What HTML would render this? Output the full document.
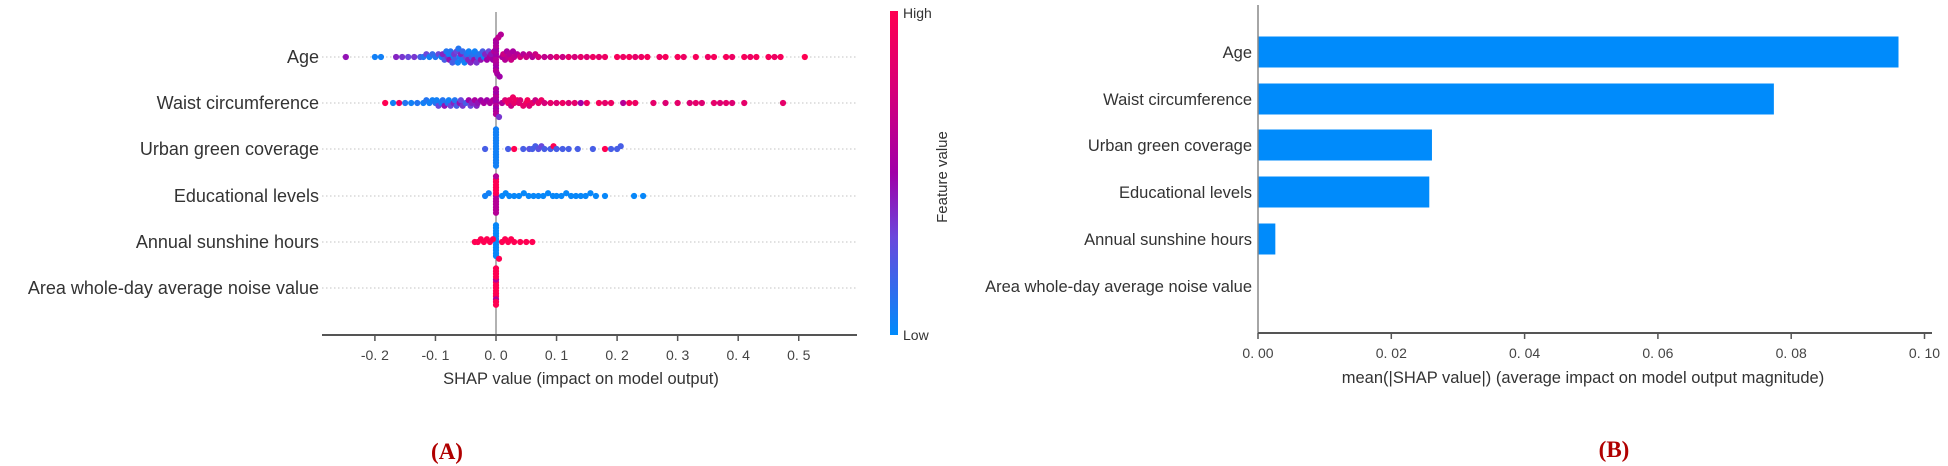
<!DOCTYPE html>
<html><head><meta charset="utf-8">
<style>
html,body{margin:0;padding:0;background:#fff;}
svg{display:block;font-family:"Liberation Sans",Arial,sans-serif;}
</style></head>
<body>
<svg id="fig" width="1948" height="466" viewBox="0 0 1948 466">
<defs>
<linearGradient id="cbar" x1="0" y1="1" x2="0" y2="0">
<stop offset="0" stop-color="#008bfb"/><stop offset="0.3" stop-color="#6a48dc"/><stop offset="0.5" stop-color="#a000a8"/><stop offset="0.75" stop-color="#d5007a"/><stop offset="1" stop-color="#ff0052"/>
</linearGradient>
</defs>
<g id="panelA"></g>
<g id="panelB"></g>
</svg>
<script>
const features = ["Age","Waist circumference","Urban green coverage","Educational levels","Annual sunshine hours","Area whole-day average noise value"];
const ageShap = [-0.248,-0.20,-0.19,-0.165,-0.155,-0.145,-0.135,-0.125,-0.12,-0.115,-0.11,-0.105,-0.10,-0.095,-0.09,-0.088,-0.085,-0.082,-0.08,-0.078,-0.077,-0.075,-0.072,-0.07,-0.069,-0.068,-0.065,-0.063,-0.062,-0.06,-0.058,-0.056,-0.055,-0.052,-0.05,-0.048,-0.046,-0.045,-0.042,-0.04,-0.038,-0.036,-0.035,-0.032,-0.03,-0.028,-0.025,-0.022,-0.02,-0.018,-0.015,-0.012,-0.01,-0.008,-0.005,-0.003,0,0,0,0,0,0,0,0,0,0,0,0,0.002,0.004,0.006,0.008,0.01,0.012,0.015,0.018,0.02,0.022,0.025,0.028,0.03,0.035,0.04,0.045,0.05,0.055,0.06,0.065,0.07,0.08,0.09,0.1,0.11,0.12,0.13,0.14,0.15,0.16,0.17,0.18,0.2,0.21,0.22,0.23,0.24,0.25,0.27,0.28,0.3,0.31,0.33,0.35,0.36,0.38,0.39,0.41,0.42,0.43,0.45,0.46,0.47,0.51];
const ageFv = [0.45,0.05,0.05,0.4,0.35,0.3,0.35,0.2,0.1,0.3,0.05,0.15,0.1,0.3,0.05,0.4,0.2,0.1,0.35,0.05,0.45,0.1,0.2,0.05,0.35,0.2,0.3,0.05,0.1,0.05,0.4,0.1,0.15,0.05,0.3,0.1,0.4,0.05,0.4,0.2,0.1,0.45,0.05,0.35,0.15,0.1,0.45,0.2,0.05,0.4,0.5,0.3,0.55,0.45,0.5,0.6,0.55,0.5,0.6,0.55,0.6,0.5,0.55,0.6,0.5,0.55,0.6,0.55,0.55,0.65,0.5,0.6,0.55,0.7,0.6,0.55,0.65,0.6,0.7,0.55,0.65,0.6,0.75,0.6,0.7,0.65,0.6,0.7,0.75,0.65,0.7,0.8,0.7,0.85,0.75,0.85,0.8,0.9,0.85,0.9,0.95,0.9,0.95,0.85,0.9,0.95,0.9,0.95,0.95,0.9,0.95,0.9,0.95,0.95,0.9,0.95,0.9,0.95,0.95,0.9,0.95,1];
const waistShap = [-0.183,-0.17,-0.16,-0.15,-0.14,-0.13,-0.12,-0.115,-0.11,-0.105,-0.1,-0.098,-0.095,-0.09,-0.088,-0.085,-0.08,-0.078,-0.075,-0.07,-0.068,-0.065,-0.06,-0.058,-0.055,-0.05,-0.045,-0.042,-0.04,-0.035,-0.032,-0.03,-0.025,-0.02,-0.015,-0.01,-0.005,0,0,0,0,0,0,0,0,0,0,0.005,0.01,0.015,0.02,0.022,0.025,0.028,0.03,0.035,0.038,0.04,0.045,0.05,0.052,0.055,0.06,0.065,0.07,0.075,0.08,0.09,0.1,0.11,0.12,0.13,0.14,0.15,0.17,0.18,0.19,0.21,0.22,0.23,0.26,0.28,0.3,0.32,0.33,0.34,0.36,0.37,0.38,0.39,0.41,0.474];
const waistFv = [1,0.05,0.9,0.1,0.05,0.1,0.05,0.1,0.05,0.05,0.1,0.05,0.3,0.05,0.1,0.45,0.1,0.05,0.3,0.4,0.1,0.2,0.45,0.3,0.35,0.2,0.5,0.3,0.4,0.55,0.4,0.45,0.5,0.55,0.5,0.55,0.6,0.55,0.5,0.6,0.55,0.5,0.6,0.55,0.5,0.6,0.55,0.35,0.6,0.8,0.9,0.85,0.7,0.9,0.85,0.9,0.8,0.8,0.85,0.9,0.95,0.8,0.85,0.7,0.85,0.9,0.75,0.85,0.8,0.9,0.8,0.85,0.5,0.9,0.95,0.85,0.9,0.6,0.95,0.9,0.85,0.8,0.85,0.8,0.85,0.8,0.85,0.8,0.85,0.8,0.85,0.85];
const urbanShap = [0,0,0,0,0,0,0,0,0,0,0,0,0,0,-0.018,0.02,0.03,0.045,0.055,0.06,0.065,0.07,0.075,0.08,0.09,0.095,0.1,0.11,0.12,0.135,0.16,0.18,0.19,0.2,0.206];
const urbanFv = [0.05,0.05,0.05,0.05,0.05,0.05,0.05,0.05,0.05,0.05,0.05,0.05,0.05,0.05,0.2,0.2,1,0.2,0.25,0.2,0.2,0.25,0.3,0.2,0.2,1,0.2,0.2,0.2,0.2,0.2,1,0.2,0.2,0.2];
const eduShap = [0,0,0,0,0,0,0,0,0,0,0,0,0,0,-0.018,-0.012,0.01,0.016,0.022,0.03,0.038,0.046,0.054,0.062,0.07,0.078,0.086,0.094,0.1,0.108,0.116,0.124,0.132,0.14,0.148,0.156,0.165,0.18,0.228,0.243];
const eduFv = [0.6,1,0.6,1,0.6,1,0.6,1,0.6,1,0.6,1,0.6,0.6,0.05,0.05,0.02,0.02,0.02,0.02,0.02,0.02,0.02,0.02,0.02,0.02,0.02,0.02,0.02,0.02,0.02,0.02,0.02,0.02,0.02,0.02,0.02,0.02,0.02,0.02];
const sunShap = [0,0,0,0,0,0,0,0,0,0,0,0,-0.035,-0.03,-0.025,-0.02,-0.015,-0.01,-0.005,0.005,0.01,0.015,0.02,0.025,0.03,0.04,0.05,0.06];
const sunFv = [0.02,0.02,0.02,0.02,0.02,0.02,0.02,0.02,0.02,0.02,0.02,0.02,1,1,1,1,1,1,1,1,1,1,1,1,1,1,1,1];
const noiseShap = [0,0,0,0,0,0,0,0,0,0,0,0,0,0];
const noiseFv = [1,1,1,1,1,0.6,1,1,0.6,1,1,1,1,1];
const shapTicks = [-0.2,-0.1,0.0,0.1,0.2,0.3,0.4,0.5];
const shapTickLabels = ["-0. 2","-0. 1","0. 0","0. 1","0. 2","0. 3","0. 4","0. 5"];
const meanAbs = [0.0961,0.0774,0.0261,0.0257,0.0026,0.0];
const barTicks = [0,0.02,0.04,0.06,0.08,0.10];
const barTickLabels = ["0. 00","0. 02","0. 04","0. 06","0. 08","0. 10"];

const NS="http://www.w3.org/2000/svg";
function mk(tag,attrs,parent){const e=document.createElementNS(NS,tag);for(const k in attrs)e.setAttribute(k,attrs[k]);parent.appendChild(e);return e;}
function lerp(a,b,t){return a+(b-a)*t;}
const stops=[[0,[0,139,251]],[0.3,[106,72,220]],[0.5,[160,0,168]],[0.75,[213,0,122]],[1,[255,0,82]]];
function cmap(v){for(let i=1;i<stops.length;i++){if(v<=stops[i][0]){const t=(v-stops[i-1][0])/(stops[i][0]-stops[i-1][0]);const a=stops[i-1][1],b=stops[i][1];return `rgb(${Math.round(lerp(a[0],b[0],t))},${Math.round(lerp(a[1],b[1],t))},${Math.round(lerp(a[2],b[2],t))})`;}}return "rgb(255,0,82)";}

// ---------- Panel A ----------
const A=document.getElementById('panelA');
const xA=v=>496+v*605.5;
const rowY=[57,103,149,196,242,288];
features.forEach((f,i)=>{
  const g=mk('line',{x1:322,x2:857,y1:rowY[i],y2:rowY[i],stroke:'#cfcfcf','stroke-width':1.2,'stroke-dasharray':'1.5,2.5'},A);
  
  
  const t=mk('text',{x:319,y:rowY[i]+6,'text-anchor':'end','font-size':18,fill:'#333'},A);
  t.textContent=f;
  
  
});
const zl=mk('line',{x1:496,x2:496,y1:12,y2:335,stroke:'#999','stroke-width':1.5},A);


const sets=[[ageShap,ageFv],[waistShap,waistFv],[urbanShap,urbanFv],[eduShap,eduFv],[sunShap,sunFv],[noiseShap,noiseFv]];
sets.forEach((s,i)=>{
  const [sv,fv]=s;const bins={};
  sv.forEach((v,j)=>{
    const x=xA(v);const b=Math.round(x/6);
    const k=bins[b]||0;bins[b]=k+1;
    const off=(k===0?0:((k+1)>>1)*(k%2?-1:1))*2.8;
    const c=mk('circle',{cx:x,cy:rowY[i]+off,r:3.1,fill:cmap(fv[j])},A);
    
    
  });
});
const axA=mk('line',{x1:322,x2:857,y1:335,y2:335,stroke:'#555','stroke-width':2},A);


shapTicks.forEach((v,i)=>{
  const tk=mk('line',{x1:xA(v),x2:xA(v),y1:335,y2:341,stroke:'#555','stroke-width':1.5},A);
  
  
  const t=mk('text',{x:xA(v),y:360,'text-anchor':'middle','font-size':14,fill:'#444'},A);
  t.textContent=shapTickLabels[i];
  
  
});
const xlA=mk('text',{x:581,y:384,'text-anchor':'middle','font-size':16.5,fill:'#333'},A);
xlA.textContent='SHAP value (impact on model output)';


const cb=mk('rect',{x:890,y:11,width:8,height:324,fill:'url(#cbar)'},A);


const hi=mk('text',{x:903,y:18,'font-size':14,fill:'#333'},A);hi.textContent='High';


const lo=mk('text',{x:903,y:340,'font-size':14,fill:'#333'},A);lo.textContent='Low';


const fvl=mk('text',{x:947,y:177,'text-anchor':'middle','font-size':15,fill:'#333',transform:'rotate(-90 947 177)'},A);fvl.textContent='Feature value';


const pa=mk('text',{x:447,y:459,'text-anchor':'middle','font-size':23,'font-weight':'bold','font-family':'Liberation Serif, serif',fill:'#b00000'},A);pa.textContent='(A)';



// ---------- Panel B ----------
const B=document.getElementById('panelB');
const xB=v=>1258+v*6665;
const rowYB=[52,99,145,192,239,286];
features.forEach((f,i)=>{
  const t=mk('text',{x:1252,y:rowYB[i]+6,'text-anchor':'end','font-size':16.5,fill:'#333'},B);
  t.textContent=f;
  
  
  const w=xB(meanAbs[i])-1258;
  if(w>0){const r=mk('rect',{x:1258,y:rowYB[i]-15.5,width:w,height:31,fill:'#008bfb'},B);
  
  }
});
const yB=mk('line',{x1:1258,x2:1258,y1:5,y2:333,stroke:'#888','stroke-width':1.5},B);


const axB=mk('line',{x1:1258,x2:1932,y1:333,y2:333,stroke:'#555','stroke-width':2},B);


barTicks.forEach((v,i)=>{
  const tk=mk('line',{x1:xB(v),x2:xB(v),y1:333,y2:339,stroke:'#555','stroke-width':1.5},B);
  
  
  const t=mk('text',{x:xB(v),y:358,'text-anchor':'middle','font-size':14,fill:'#444'},B);
  t.textContent=barTickLabels[i];
  
  
});
const xlB=mk('text',{x:1583,y:383,'text-anchor':'middle','font-size':16.5,fill:'#333'},B);
xlB.textContent='mean(|SHAP value|) (average impact on model output magnitude)';


const pb=mk('text',{x:1614,y:457,'text-anchor':'middle','font-size':23,'font-weight':'bold','font-family':'Liberation Serif, serif',fill:'#b00000'},B);pb.textContent='(B)';


</script>
</body></html>
